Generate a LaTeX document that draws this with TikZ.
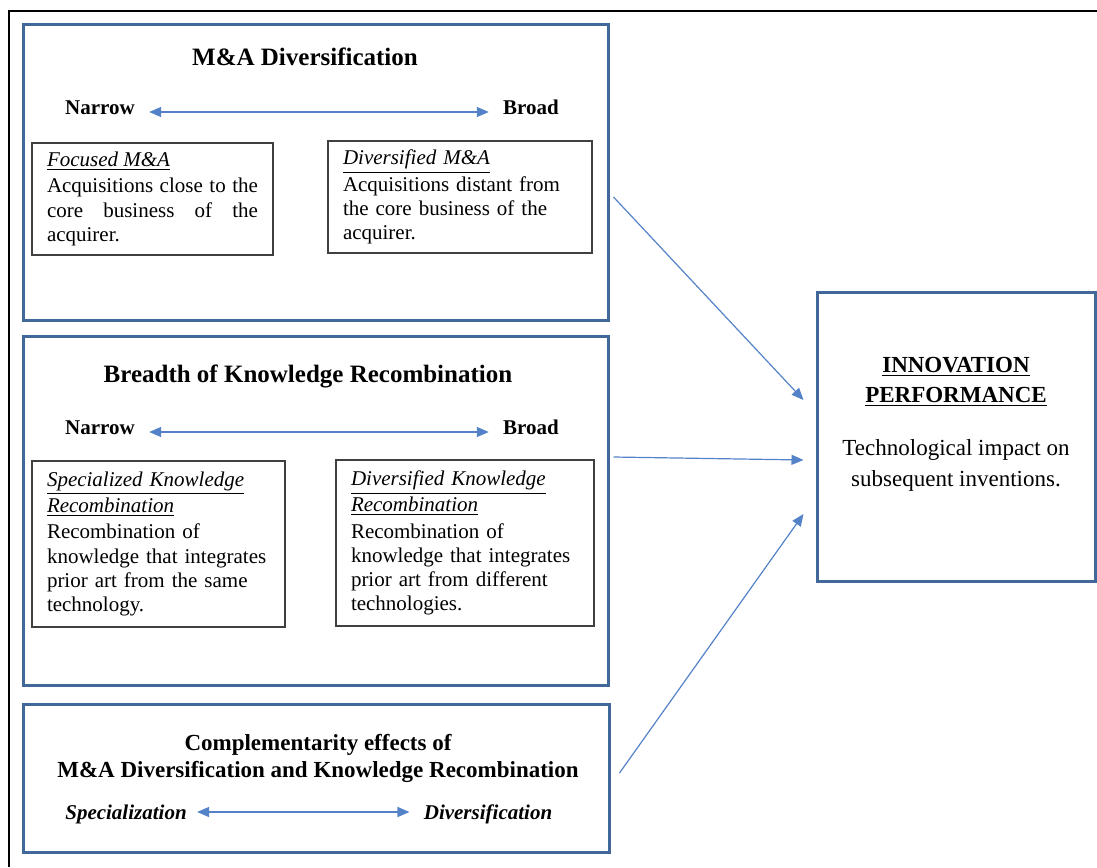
\documentclass[tikz,border=0pt]{standalone}
\usepackage{fontspec}
\setmainfont{Liberation Serif}
\usetikzlibrary{arrows.meta}

\definecolor{boxblue}{RGB}{65,103,155}
\definecolor{arrowblue}{RGB}{84,130,200}
\definecolor{boxgray}{RGB}{64,64,64}

\begin{document}
\begin{tikzpicture}[x=0.5pt, y=-0.5pt,
  bigbox/.style={draw=boxblue, line width=1.5pt, inner sep=0pt},
  smallbox/.style={draw=boxgray, line width=0.7pt, inner xsep=7.5pt, inner ysep=0pt, align=left, font=\fontsize{10.5}{12.1}\selectfont},
  heading/.style={font=\fontsize{12.5}{13.5}\selectfont\bfseries, align=center, inner sep=0pt},
  endlabel/.style={font=\fontsize{10.5}{12}\selectfont\bfseries, inner sep=7pt, anchor=base},
  dblarrow/.style={arrowblue, line width=0.7pt, {Triangle[length=6pt,width=5pt]}-{Triangle[length=6pt,width=5pt]}},
  flow/.style={arrowblue, line width=0.6pt, -{Triangle[length=6pt,width=5pt]}}]
\useasboundingbox (0,0) rectangle (1097,867);
\draw[line width=1pt] (9,867) -- (9,11) -- (1097,11);

\node[bigbox, minimum width=292.5pt, minimum height=148pt] (mna) at (315.5,172) {};
\node[heading] (mnatitle) at (305,57) {M\&A Diversification};
\node[endlabel] (narrow1) at (100,114) {Narrow};
\node[endlabel] (broad1) at (531,114) {Broad};
\draw[dblarrow] ([yshift=1pt]narrow1.base east) -- ([yshift=1pt]broad1.base west);
\node[smallbox, text width=105.5pt, minimum height=56pt, align=justify] (focused) at (152.5,199)
  {\underline{\textit{Focused M\&A}}\\[1pt] Acquisitions close to the\linebreak core business of the\linebreak acquirer.};
\node[smallbox, text width=117pt, minimum height=56pt] (divmna) at (460,197)
  {\underline{\textit{Diversified M\&A}}\\[1pt] Acquisitions distant from\\ the core business of the\\ acquirer.};

\node[bigbox, minimum width=292.5pt, minimum height=174.5pt] (kr) at (315.5,510.5) {};
\node[heading] (krtitle) at (308,376) {Breadth of Knowledge Recombination};
\node[endlabel] (narrow2) at (100,434) {Narrow};
\node[endlabel] (broad2) at (531,434) {Broad};
\draw[dblarrow] ([yshift=1pt]narrow2.base east) -- ([yshift=1pt]broad2.base west);
\node[smallbox, text width=111.5pt, minimum height=83pt] (speckr) at (158.5,544)
  {\underline{\textit{Specialized Knowledge}}\\[1pt] \underline{\textit{Recombination}}\\[1pt] Recombination of\\ knowledge that integrates\\ prior art from the same\\ technology.};
\node[smallbox, text width=114pt, minimum height=83pt] (divkr) at (465,543)
  {\underline{\textit{Diversified Knowledge}}\\[1pt] \underline{\textit{Recombination}}\\[1pt] Recombination of\\ knowledge that integrates\\ prior art from different\\ technologies.};

\node[bigbox, minimum width=293pt, minimum height=74pt] (compl) at (316,778) {};
\node[heading, font=\fontsize{11.5}{13.5}\selectfont\bfseries] (compltitle) at (318,758) {Complementarity effects of\\ M\&A Diversification and Knowledge Recombination};
\node[endlabel, font=\fontsize{10.5}{12}\selectfont\bfseries\itshape, inner sep=5pt] (spec) at (126,819) {Specialization};
\node[endlabel, font=\fontsize{10.5}{12}\selectfont\bfseries\itshape, inner sep=7pt] (divers) at (488,819) {Diversification};
\draw[dblarrow] ([yshift=3.5pt]spec.base east) -- ([yshift=3.5pt]divers.base west);

\node[bigbox, minimum width=139pt, minimum height=144.5pt] (innov) at (956,436.5) {};
\node[heading, font=\fontsize{11.5}{15}\selectfont\bfseries] (innovtitle) at (956,382) {\underline{INNOVATION}\\ \underline{PERFORMANCE}};
\node[align=center, inner sep=0pt, font=\fontsize{11.5}{15.5}\selectfont] (innovtext) at (956,465) {Technological impact on\\ subsequent inventions.};

\draw[flow] ([shift={(4,25)}]mna.east) -- ([shift={(-12,-36.5)}]innov.west);
\draw[flow] ([shift={(4,-53.5)}]kr.east) -- ([shift={(-12,23.5)}]innov.west);
\draw[flow] ([shift={(9,-5)}]compl.east) -- ([shift={(-12,77.5)}]innov.west);
\end{tikzpicture}
\end{document}
